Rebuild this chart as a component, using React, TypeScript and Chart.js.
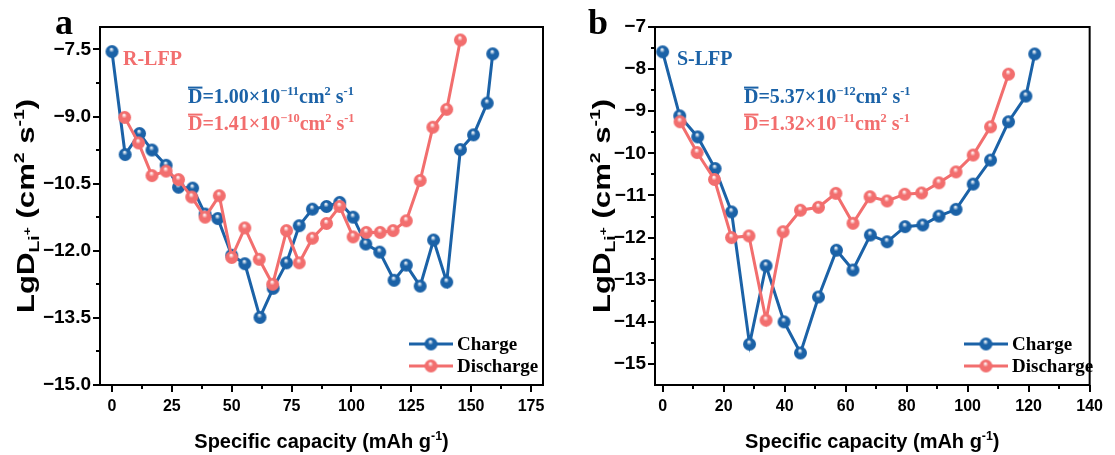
import React, { useEffect, useRef } from "react";
import { Chart, registerables } from "chart.js";
Chart.register(...registerables);

const BLUE = "#1b62a7";
const RED = "#f26e6e";
const SANS = '"Liberation Sans", Arial, sans-serif';
const SERIF = '"Liberation Serif", "Times New Roman", serif';

// ---------- Panel a : R-LFP ----------
const aChargeX = [0, 5.5, 11.5, 16.7, 22.6, 27.8, 33.7, 38.9, 44.2, 50, 55.5, 61.8, 67.3, 72.9, 78.2, 83.7, 89.6, 95.1, 100.7, 106, 111.8, 117.8, 122.9, 128.7, 134.3, 139.8, 145.5, 151, 156.7, 159];
const aChargeY = [-7.55, -9.85, -9.38, -9.75, -10.09, -10.58, -10.6, -11.18, -11.28, -12.1, -12.29, -13.49, -12.84, -12.27, -11.44, -11.07, -11.01, -10.92, -11.25, -11.85, -12.03, -12.66, -12.32, -12.79, -11.76, -12.7, -9.74, -9.41, -8.7, -7.6];
const aDischargeX = [5.3, 11.1, 16.7, 22.6, 27.8, 33.3, 38.9, 44.8, 50, 55.5, 61.5, 67.1, 72.9, 78.2, 83.7, 89.6, 95.1, 100.7, 106.2, 112, 117.4, 122.9, 128.7, 134, 139.8, 145.5];
const aDischargeY = [-9.02, -9.59, -10.32, -10.22, -10.41, -10.8, -11.25, -10.77, -12.15, -11.49, -12.19, -12.75, -11.55, -12.27, -11.72, -11.39, -11.01, -11.69, -11.59, -11.59, -11.55, -11.33, -10.43, -9.24, -8.84, -7.29];
const aXTicks = [0, 25, 50, 75, 100, 125, 150, 175];
const aYTicks = [-15, -13.5, -12, -10.5, -9, -7.5];

// ---------- Panel b : S-LFP ----------
const bChargeX = [0, 5.6, 11.5, 17.2, 22.6, 28.5, 33.9, 39.8, 45.2, 51.1, 57, 62.4, 68.1, 73.6, 79.5, 85.3, 90.6, 96.2, 101.8, 107.5, 113.4, 119.1, 122];
const bChargeY = [-7.59, -9.11, -9.61, -10.36, -11.39, -14.53, -12.67, -14.0, -14.74, -13.41, -12.3, -12.77, -11.94, -12.1, -11.74, -11.7, -11.49, -11.33, -10.73, -10.16, -9.25, -8.64, -7.64];
const bDischargeX = [5.7, 11.3, 17, 22.6, 28.3, 33.9, 39.5, 45.2, 51.1, 56.8, 62.4, 68, 73.6, 79.4, 84.9, 90.6, 96.2, 101.8, 107.5, 113.4];
const bDischargeY = [-9.25, -9.98, -10.62, -12.0, -11.96, -13.96, -11.86, -11.35, -11.28, -10.95, -11.66, -11.03, -11.13, -10.97, -10.94, -10.7, -10.44, -10.04, -9.37, -8.12];
const bXTicks = [0, 20, 40, 60, 80, 100, 120, 140];
const bYTicks = [-15, -14, -13, -12, -11, -10, -9, -8, -7];

const legendLabels = ["Charge", "Discharge"];

type Seg = { t: string; k?: "sup" | "sub" | "ss"; over?: boolean };

function segStyle(size: number, k?: string) {
  if (k === "sup") return { fs: size * 0.62, dy: -size * 0.38 };
  if (k === "sub") return { fs: size * 0.62, dy: size * 0.22 };
  if (k === "ss") return { fs: size * 0.45, dy: -size * 0.1 };
  return { fs: size, dy: 0 };
}
function richWidth(ctx: CanvasRenderingContext2D, segs: Seg[], size: number, family: string) {
  let w = 0;
  for (const s of segs) {
    const { fs } = segStyle(size, s.k);
    ctx.font = `bold ${fs}px ${family}`;
    w += ctx.measureText(s.t).width;
  }
  return w;
}
function drawRich(ctx: CanvasRenderingContext2D, segs: Seg[], x: number, y: number, size: number, family: string, color: string) {
  let cx = x;
  ctx.fillStyle = color;
  ctx.textAlign = "left";
  ctx.textBaseline = "alphabetic";
  for (const s of segs) {
    const { fs, dy } = segStyle(size, s.k);
    ctx.font = `bold ${fs}px ${family}`;
    ctx.fillText(s.t, cx, y + dy);
    const w = ctx.measureText(s.t).width;
    if (s.over) ctx.fillRect(cx, y - size * 0.82, w, 2);
    cx += w;
  }
}

function sphere(color: string, r: number): HTMLCanvasElement {
  const s = Math.ceil(r * 2 + 2);
  const c = document.createElement("canvas");
  c.width = s;
  c.height = s;
  const ctx = c.getContext("2d")!;
  const cx = s / 2, cy = s / 2;
  const g = ctx.createRadialGradient(cx - r * 0.1, cy - r * 0.4, r * 0.05, cx, cy, r);
  g.addColorStop(0, "rgba(255,255,255,1)");
  g.addColorStop(0.38, color);
  g.addColorStop(1, color);
  ctx.beginPath();
  ctx.arc(cx, cy, r, 0, Math.PI * 2);
  ctx.fillStyle = g;
  ctx.fill();
  return c;
}

type PanelCfg = {
  left: number;
  width: number;
  plot: { l: number; t: number; r: number; b: number };
  xMin: number; xMax: number; yMin: number; yMax: number;
  xTicks: number[]; yTicks: number[]; yDec: number;
  cx: number[]; cy: number[]; dx: number[]; dy: number[];
  letter: string; letterX: number;
  sample: string; sampleColor: string; sampleX: number;
  annX: number; annC: [string, string]; annD: [string, string];
  legendX: number; yTitleX: number;
};

const panels: PanelCfg[] = [
  {
    left: 0, width: 560, plot: { l: 100, t: 27, r: 543, b: 385 },
    xMin: -5, xMax: 180, yMin: -15, yMax: -7, xTicks: aXTicks, yTicks: aYTicks, yDec: 1,
    cx: aChargeX, cy: aChargeY, dx: aDischargeX, dy: aDischargeY,
    letter: "a", letterX: 55, sample: "R-LFP", sampleColor: RED, sampleX: 123,
    annX: 188, annC: ["1.00", "−11"], annD: ["1.41", "−10"], legendX: 409, yTitleX: 25,
  },
  {
    left: 560, width: 555, plot: { l: 95, t: 27, r: 537, b: 385 },
    xMin: -2.5, xMax: 140, yMin: -15.5, yMax: -7, xTicks: bXTicks, yTicks: bYTicks, yDec: 0,
    cx: bChargeX, cy: bChargeY, dx: bDischargeX, dy: bDischargeY,
    letter: "b", letterX: 28, sample: "S-LFP", sampleColor: BLUE, sampleX: 117,
    annX: 184, annC: ["5.37", "−12"], annD: ["1.32", "−11"], legendX: 404, yTitleX: 41,
  },
];

function minors(ticks: number[], min: number, max: number) {
  const out: number[] = [];
  const step = ticks[1] - ticks[0];
  const all = [ticks[0] - step, ...ticks, ticks[ticks.length - 1] + step];
  for (let i = 0; i < all.length - 1; i++) {
    const m = (all[i] + all[i + 1]) / 2;
    if (m > min && m < max) out.push(m);
  }
  return out;
}

const fmt = (v: number, dec: number) => {
  const s = Math.abs(v).toFixed(dec);
  return v < 0 ? "\u2212" + s : s;
};

function Panel({ cfg }: { cfg: PanelCfg }) {
  const ref = useRef<HTMLCanvasElement>(null);
  useEffect(() => {
    const canvas = ref.current!;
    const blueImg = sphere(BLUE, 6.5);
    const redImg = sphere(RED, 6.5);
    const deco = {
      id: "deco",
      afterDraw(chart: any) {
        const ctx: CanvasRenderingContext2D = chart.ctx;
        const a = chart.chartArea;
        const xs = chart.scales.x, ys = chart.scales.y;
        ctx.save();
        ctx.strokeStyle = "#000";
        ctx.lineWidth = 2;
        ctx.strokeRect(a.left, a.top, a.right - a.left, a.bottom - a.top);
        const tx = (v: number, len: number) => {
          const p = Math.round(xs.getPixelForValue(v));
          ctx.beginPath(); ctx.moveTo(p, a.bottom); ctx.lineTo(p, a.bottom + len); ctx.stroke();
        };
        const ty = (v: number, len: number) => {
          const p = Math.round(ys.getPixelForValue(v));
          ctx.beginPath(); ctx.moveTo(a.left, p); ctx.lineTo(a.left - len, p); ctx.stroke();
        };
        cfg.xTicks.forEach((v) => tx(v, 7));
        minors(cfg.xTicks, cfg.xMin, cfg.xMax).forEach((v) => tx(v, 4));
        cfg.yTicks.forEach((v) => ty(v, 7));
        minors(cfg.yTicks, cfg.yMin, cfg.yMax).forEach((v) => ty(v, 4));

        // axis titles
        const xSegs: Seg[] = [{ t: "Specific capacity (mAh g" }, { t: "-1", k: "sup" }, { t: ")" }];
        const xw = richWidth(ctx, xSegs, 20, SANS);
        drawRich(ctx, xSegs, (a.left + a.right) / 2 - xw / 2, 448, 20, SANS, "#000");
        const ySegs: Seg[] = [
          { t: "LgD" }, { t: "Li", k: "sub" }, { t: "+", k: "ss" }, { t: " (cm" }, { t: "2", k: "sup" },
          { t: " s" }, { t: "-1", k: "sup" }, { t: ")" },
        ];
        ctx.save();
        ctx.translate(cfg.yTitleX, (a.top + a.bottom) / 2);
        ctx.rotate(-Math.PI / 2);
        const yw = richWidth(ctx, ySegs, 24, SANS);
        ctx.scale(214 / yw, 1);
        drawRich(ctx, ySegs, -yw / 2, 8.5, 24, SANS, "#000");
        ctx.restore();

        // panel letter
        ctx.font = `bold 36px ${SERIF}`;
        ctx.fillStyle = "#000";
        ctx.textAlign = "left";
        ctx.textBaseline = "alphabetic";
        ctx.fillText(cfg.letter, cfg.letterX, 34);

        // sample label
        ctx.font = `bold 20px ${SERIF}`;
        ctx.fillStyle = cfg.sampleColor;
        ctx.fillText(cfg.sample, cfg.sampleX, 65);

        // diffusion coefficients
        const ann = (vals: [string, string], color: string, y: number) => {
          const segs: Seg[] = [
            { t: "D", over: true }, { t: "=" + vals[0] + "×10" }, { t: vals[1], k: "sup" },
            { t: "cm" }, { t: "2", k: "sup" }, { t: " s" }, { t: "-1", k: "sup" },
          ];
          drawRich(ctx, segs, cfg.annX, y, 20, SERIF, color);
        };
        ann(cfg.annC, BLUE, 103);
        ann(cfg.annD, RED, 130);

        // legend
        const items: [string, string, HTMLCanvasElement, number][] = [
          [legendLabels[0], BLUE, blueImg, 344],
          [legendLabels[1], RED, redImg, 366],
        ];
        for (const [label, color, img, y] of items) {
          ctx.strokeStyle = color;
          ctx.lineWidth = 3;
          ctx.beginPath(); ctx.moveTo(cfg.legendX, y); ctx.lineTo(cfg.legendX + 44, y); ctx.stroke();
          ctx.drawImage(img, cfg.legendX + 22 - img.width / 2, y - img.height / 2);
          ctx.font = `bold 19px ${SERIF}`;
          ctx.fillStyle = "#000";
          ctx.textBaseline = "middle";
          ctx.fillText(label, cfg.legendX + 48, y + 1);
          ctx.textBaseline = "alphabetic";
        }
        ctx.restore();
      },
    };

    const xTickFont = { family: SANS, weight: "bold" as const, size: 16 };
    const yTickFont = { family: SANS, weight: "bold" as const, size: 19 };
    const chart = new Chart(canvas, {
      type: "line",
      data: {
        datasets: [
          {
            label: legendLabels[0],
            data: cfg.cx.map((x, i) => ({ x, y: cfg.cy[i] })),
            borderColor: BLUE, backgroundColor: BLUE, borderWidth: 3,
            pointStyle: blueImg as any, pointRadius: 6, tension: 0, order: 2,
          },
          {
            label: legendLabels[1],
            data: cfg.dx.map((x, i) => ({ x, y: cfg.dy[i] })),
            borderColor: RED, backgroundColor: RED, borderWidth: 3,
            pointStyle: redImg as any, pointRadius: 6, tension: 0, order: 1,
          },
        ],
      },
      options: {
        responsive: false,
        animation: false,
        events: [],
        layout: { padding: { left: 0, top: cfg.plot.t, right: cfg.width - cfg.plot.r, bottom: 0 } },
        plugins: { legend: { display: false }, tooltip: { enabled: false } },
        scales: {
          x: {
            type: "linear", min: cfg.xMin, max: cfg.xMax,
            grid: { display: false, drawTicks: false }, border: { display: false },
            ticks: { font: xTickFont, color: "#000", padding: 12, maxRotation: 0, autoSkip: false, callback: (v: any) => fmt(Number(v), 0) },
            afterBuildTicks: (s: any) => { s.ticks = cfg.xTicks.map((v) => ({ value: v })); },
            afterFit: (s: any) => { s.height = 455 - cfg.plot.b; },
          },
          y: {
            type: "linear", min: cfg.yMin, max: cfg.yMax,
            grid: { display: false, drawTicks: false }, border: { display: false },
            ticks: { font: yTickFont, color: "#000", padding: 9, autoSkip: false, callback: (v: any) => fmt(Number(v), cfg.yDec) },
            afterBuildTicks: (s: any) => { s.ticks = cfg.yTicks.map((v) => ({ value: v })); },
            afterFit: (s: any) => { s.width = cfg.plot.l; },
          },
        },
      },
      plugins: [deco],
    } as any);
    return () => chart.destroy();
  }, []);
  return (
    <div style={{ position: "absolute", left: cfg.left, top: 0, width: cfg.width, height: 455 }}>
      <canvas ref={ref} width={cfg.width} height={455} style={{ display: "block" }} />
    </div>
  );
}

export default function App() {
  return (
    <div style={{ position: "absolute", left: 0, top: 0, width: 1115, height: 455, background: "#fff" }}>
      {panels.map((p) => (
        <Panel key={p.letter} cfg={p} />
      ))}
    </div>
  );
}
